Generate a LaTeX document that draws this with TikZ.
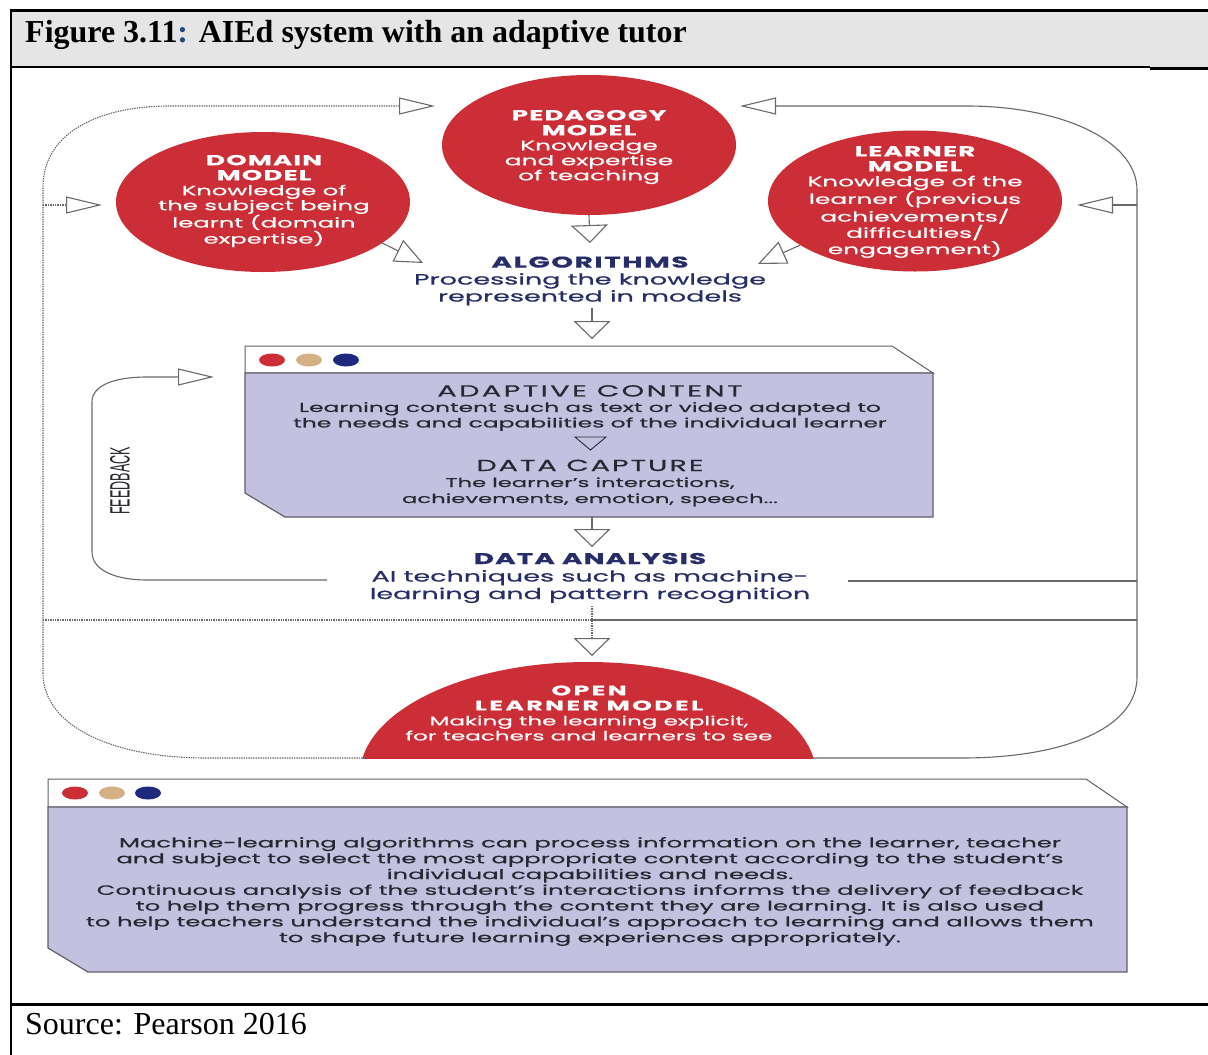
\documentclass[tikz,border=0pt]{standalone}
\usepackage{fontspec}
\setmainfont{Liberation Serif}
\newfontfamily\dgf{Poppins}[FakeStretch=1.8, FakeBold=0.6]
\newfontfamily\fbf{Liberation Sans}
\usetikzlibrary{arrows.meta,shapes.geometric}

\definecolor{aiRed}{RGB}{204,46,56}
\definecolor{aiNavy}{RGB}{38,45,105}
\definecolor{dotNavy}{RGB}{30,40,125}
\definecolor{dotTan}{RGB}{214,176,133}
\definecolor{aiLav}{RGB}{196,193,224}
\definecolor{boxLine}{RGB}{95,95,105}
\definecolor{loopGrey}{RGB}{105,105,105}
\definecolor{headGrey}{RGB}{229,229,229}
\definecolor{colonBlue}{RGB}{31,73,125}
\definecolor{bodyText}{RGB}{40,40,50}

% heading style inside the diagram: size, letter spacing, text
\newcommand\hdg[3]{{\bfseries\fontsize{#1}{15}\selectfont\addfontfeature{LetterSpace=#2}#3}}

\begin{document}
\begin{tikzpicture}[x=1pt,y=-1pt,
  redell/.style={ellipse, fill=aiRed, draw=none, inner sep=0pt},
  wtxt/.style={text=white, align=center, inner sep=0pt},
  ntxt/.style={text=aiNavy, align=center, inner sep=0pt},
  btxt/.style={text=bodyText, align=center, inner sep=0pt},
  loops/.style={draw=loopGrey, line width=1.1pt},
  loopd/.style={draw=loopGrey, line width=1.1pt, dash pattern=on 1.4pt off 1pt},
  htip/.style={-{Triangle[open,length=36pt,width=17pt]}},
  vtip/.style={-{Triangle[open,length=18pt,width=37pt]}},
  dtip/.style={-{Triangle[open,length=28pt,width=24pt]}},
  conn/.style={draw=loopGrey, line width=1.1pt},
  winband/.style={fill=white, draw=boxLine, line width=1pt},
  winbody/.style={fill=aiLav, draw=boxLine, line width=1.2pt},
]
\useasboundingbox (0,0) rectangle (1208,1055);
\fill[white] (0,0) rectangle (1208,1055);

% ---- table frame and caption ----
\fill[headGrey] (11,10) rectangle (1208,67);
\draw[line width=3pt] (11,10) -- (1208,10);
\draw[line width=1.6pt] (11,67) -- (1150,67);
\draw[line width=3pt] (1150,68) -- (1208,68);
\draw[line width=2.5pt] (11,8.5) -- (11,1055);
\draw[line width=3pt] (11,1004) -- (1208,1004);
\node[anchor=base west, inner sep=0pt, font=\fontsize{32}{36}\selectfont\bfseries] (title) at (25,42)
  {Figure 3.11\textcolor{colonBlue}{:} AIEd system with an adaptive tutor};
\node[anchor=base west, inner sep=0pt, font=\fontsize{32}{36}\selectfont] (src) at (25,1034)
  {Source: Pearson 2016};

% ---- the three models ----
\node[redell, minimum width=294pt, minimum height=140pt] (ped) at (589,145) {};
\node[redell, minimum width=294pt, minimum height=140pt] (dom) at (263,202) {};
\node[redell, minimum width=294pt, minimum height=141pt] (lrn) at (915,201) {};

\node[wtxt, font=\dgf\fontsize{13.8}{15}\selectfont] (pedt) at (589,147)
  {\hdg{14.5}{8}{PEDAGOGY}\\\hdg{14.5}{8}{MODEL}\\Knowledge\\and expertise\\of teaching};
\node[wtxt, font=\dgf\fontsize{13.5}{15}\selectfont] (domt) at (264,201)
  {\hdg{14.5}{8}{DOMAIN}\\\hdg{14.5}{8}{MODEL}\\Knowledge of\\the subject being\\learnt (domain\\expertise)};
\node[wtxt, font=\dgf\fontsize{13.8}{15}\selectfont] (lrnt) at (915,202)
  {\hdg{14.5}{8}{LEARNER}\\\hdg{14.5}{8}{MODEL}\\Knowledge of the\\learner (previous\\achievements/\\difficulties/\\engagement)};

% ---- algorithms ----
\node[ntxt, font=\dgf\fontsize{15}{17}\selectfont] (alg) at (590,281)
  {\hdg{15.5}{10}{ALGORITHMS}\\Processing the knowledge\\represented in models};

% ---- adaptive content window ----
\draw[winband] (245,346) -- (892,346) -- (933,373) -- (245,373) -- cycle;
\draw[winbody] (245,373) -- (933,373) -- (933,517) -- (285,517) -- (245,493) -- cycle;
\fill[aiRed]   (272,360) ellipse [x radius=13pt, y radius=6.5pt];
\fill[dotTan]  (309,360) ellipse [x radius=13pt, y radius=6.5pt];
\fill[dotNavy] (346,360) ellipse [x radius=13pt, y radius=6.5pt];
\node[btxt, font=\dgf\fontsize{13}{15.5}\selectfont] (adc) at (590,408)
  {{\fontsize{16}{15.5}\selectfont\addfontfeature{LetterSpace=15}ADAPTIVE CONTENT}\\Learning content such as text or video adapted to\\the needs and capabilities of the individual learner};
\draw[fill=aiLav, draw=bodyText, line width=0.9pt] (575,437) -- (606,437) -- (590.5,450) -- cycle;
\node[btxt, font=\dgf\fontsize{12.6}{16}\selectfont] (dcap) at (590,483)
  {{\fontsize{16}{16}\selectfont\addfontfeature{LetterSpace=12}DATA CAPTURE}\\The learner’s interactions,\\achievements, emotion, speech...};

% ---- data analysis ----
\node[ntxt, font=\dgf\fontsize{15}{17.5}\selectfont] (da) at (590,578)
  {\hdg{15.5}{7}{DATA ANALYSIS}\\AI techniques such as machine-\\learning and pattern recognition};

% ---- open learner model (half ellipse) ----
\begin{scope}
  \clip (0,0) rectangle (1208,758);
  \node[redell, minimum width=456pt, minimum height=226pt] (olm) at (588,775) {};
\end{scope}
\node[wtxt, font=\dgf\fontsize{12.8}{15}\selectfont] (olmt) at (589,713)
  {\hdg{14}{17}{OPEN}\\\hdg{14}{17}{LEARNER MODEL}\\Making the learning explicit,\\for teachers and learners to see};

% ---- summary window ----
\draw[winband] (48,779) -- (1086,779) -- (1127,807) -- (48,807) -- cycle;
\draw[winbody] (48,807) -- (1127,807) -- (1127,972) -- (88,972) -- (48,948) -- cycle;
\fill[aiRed]   (75,793) ellipse [x radius=13pt, y radius=6.5pt];
\fill[dotTan]  (112,793) ellipse [x radius=13pt, y radius=6.5pt];
\fill[dotNavy] (148,793) ellipse [x radius=13pt, y radius=6.5pt];
\node[btxt, font=\dgf\fontsize{13.5}{15.8}\selectfont] (note) at (590,891.5)
  {Machine-learning algorithms can process information on the learner, teacher\\
   and subject to select the most appropriate content according to the student’s\\
   individual capabilities and needs.\\
   Continuous analysis of the student’s interactions informs the delivery of feedback\\
   to help them progress through the content they are learning. It is also used\\
   to help teachers understand the individual’s approach to learning and allows them\\
   to shape future learning experiences appropriately.};

% ---- feedback label ----
\node[rotate=90, inner sep=0pt, text=bodyText] (fb) at (120,481)
  {\scalebox{0.45}[1]{\fbf\fontsize{28}{28}\selectfont FEEDBACK}};

% ---- connector end points ----
\coordinate (pedinL) at (435,106);
\coordinate (pedinR) at (740,106);
\coordinate (dombr) at (43,205);
\coordinate (domin) at (102,205);
\coordinate (lrnbr) at (1137,205);
\coordinate (lrnin) at (1077,205);
\coordinate (domtip) at (423,263);
\coordinate (lrntip) at (758,264);
\coordinate (pedtip) at (590,243);
\coordinate (algout) at (592,308);
\coordinate (adin) at (592,339);
\coordinate (adout) at (592,517);
\coordinate (dain) at (592,547);
\coordinate (daout) at (592,606);
\coordinate (olmin) at (592,656);
\coordinate (daL) at (327,580);
\coordinate (daR) at (848,581);
\coordinate (fbin) at (214,377);
\coordinate (olmL) at (365,758);
\coordinate (olmR) at (812,758);
\coordinate (midL) at (43,620);
\coordinate (midC) at (592,620);
\coordinate (midR) at (1137,620);

% ---- model inputs into algorithms ----
\draw[conn, vtip] (ped.south) -- (pedtip);
\draw[conn, dtip] (dom.-19) -- (domtip);
\draw[conn, dtip] (lrn.-159) -- (lrntip);
\draw[conn, vtip] (algout) -- (adin);
\draw[conn, vtip] (adout) -- (dain);
\draw[loopd, vtip] (daout) -- (olmin);

% ---- outer loops back to the models ----
\draw[loopd, htip] (olmL) -- (207,758) .. controls (110,758) and (43,725) .. (43,673)
  -- (43,187) .. controls (43,135) and (95,106) .. (170,106) -- (pedinL);
\draw[loops, htip] (olmR) -- (962,758) .. controls (1060,758) and (1137,730) .. (1137,677)
  -- (1137,190) .. controls (1137,140) and (1060,106) .. (967,106) -- (pedinR);
\draw[loopd, htip] (dombr) -- (domin);
\draw[loops, htip] (lrnbr) -- (lrnin);
\draw[loopd] (midL) -- (midC);
\draw[loops] (midC) -- (midR);
\draw[loops] (daR) -- (1137,581);

% ---- feedback loop ----
\draw[loops, htip] (daL) -- (147,580) .. controls (115,580) and (92,570) .. (92,552)
  -- (92,402) .. controls (92,385) and (115,377) .. (147,377) -- (fbin);
\end{tikzpicture}
\end{document}
